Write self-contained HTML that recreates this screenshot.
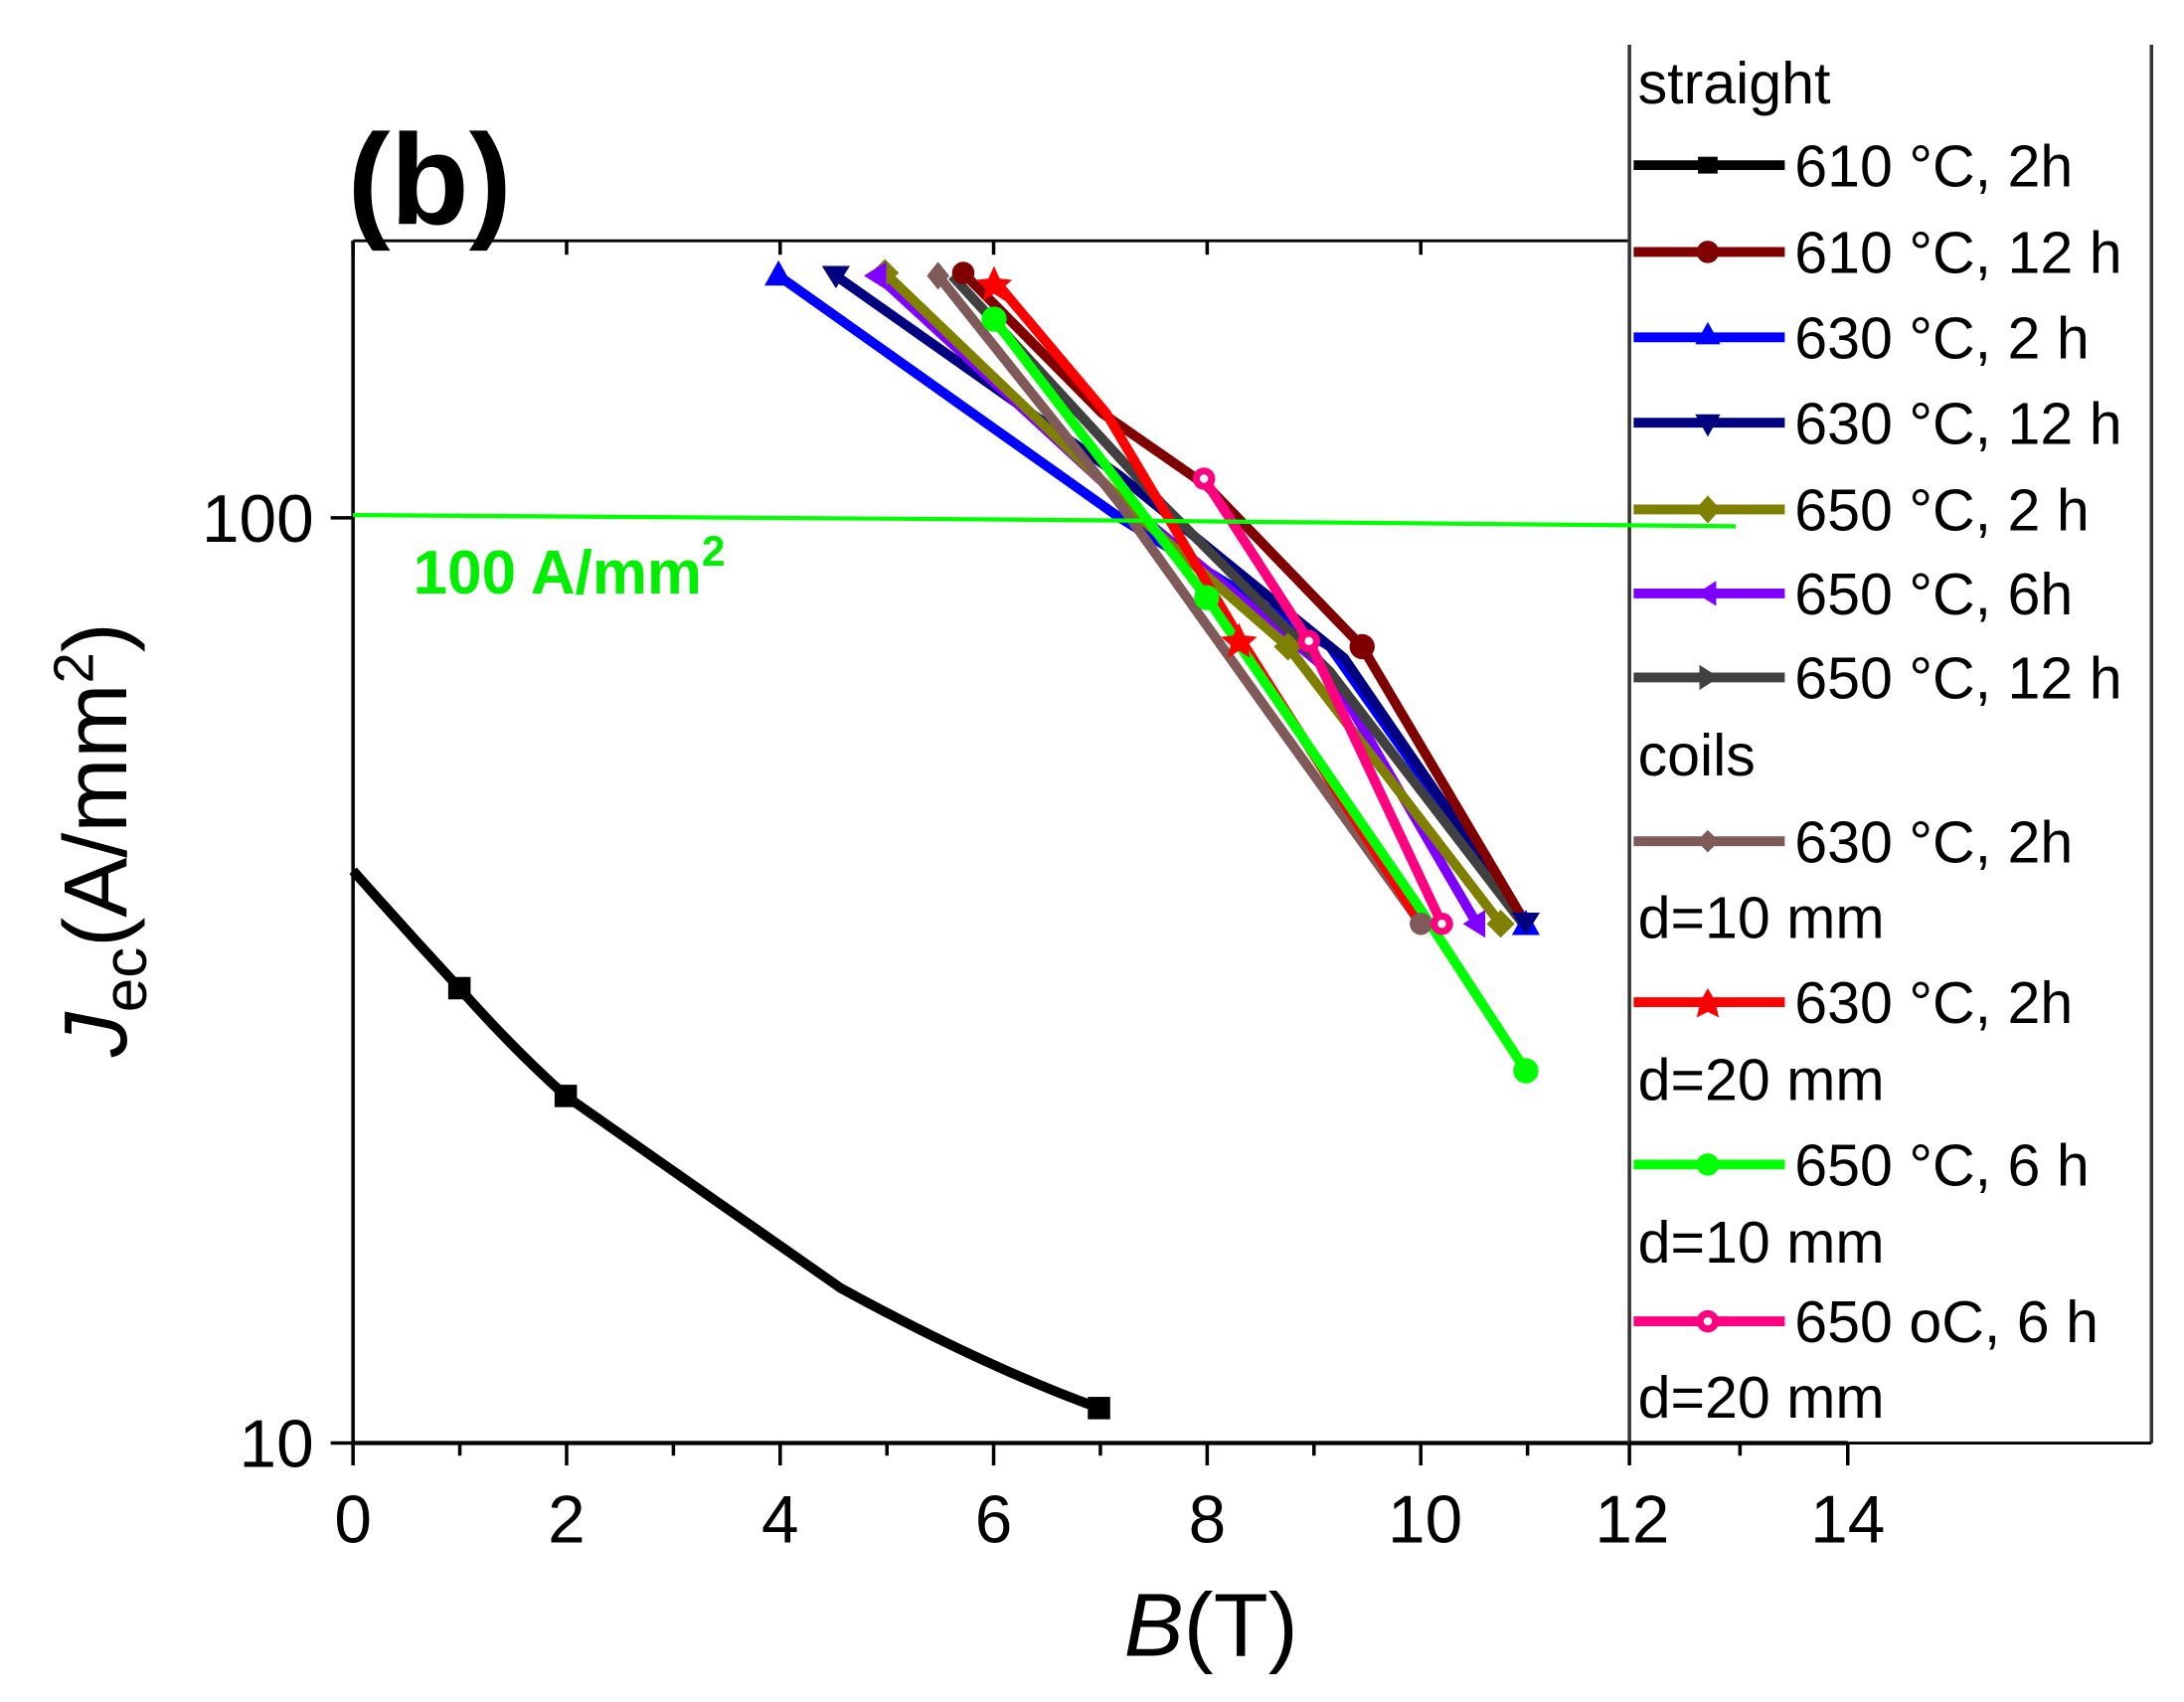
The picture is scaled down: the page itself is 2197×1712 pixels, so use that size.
<!DOCTYPE html>
<html><head><style>html,body{margin:0;padding:0;background:#fff}svg{display:block}</style></head>
<body>
<svg width="2197" height="1712" viewBox="0 0 1560 1216" xmlns="http://www.w3.org/2000/svg" font-family="Liberation Sans, Arial, sans-serif">
<rect width="1560" height="1216" fill="#fff"/>
<!-- frame -->
<line x1="252" y1="172" x2="1164" y2="172" stroke="#000" stroke-width="2"/>
<line x1="252" y1="172" x2="252" y2="1031" stroke="#000" stroke-width="2.5"/>
<line x1="252" y1="1031" x2="1320" y2="1031" stroke="#000" stroke-width="3"/>
<g stroke="#000" stroke-width="2.5">
<line x1="252" y1="1031" x2="252" y2="1047"/><line x1="404.6" y1="1031" x2="404.6" y2="1047"/><line x1="557.2" y1="1031" x2="557.2" y2="1047"/><line x1="709.7" y1="1031" x2="709.7" y2="1047"/><line x1="862.3" y1="1031" x2="862.3" y2="1047"/><line x1="1014.9" y1="1031" x2="1014.9" y2="1047"/><line x1="1164" y1="1031" x2="1164" y2="1047"/><line x1="1320" y1="1031" x2="1320" y2="1047"/>
<line x1="328.3" y1="1031" x2="328.3" y2="1040"/><line x1="480.9" y1="1031" x2="480.9" y2="1040"/><line x1="633.5" y1="1031" x2="633.5" y2="1040"/><line x1="786" y1="1031" x2="786" y2="1040"/><line x1="938.6" y1="1031" x2="938.6" y2="1040"/><line x1="1091.2" y1="1031" x2="1091.2" y2="1040"/><line x1="1243" y1="1031" x2="1243" y2="1040"/>
<line x1="252" y1="172" x2="252" y2="182"/><line x1="404.6" y1="172" x2="404.6" y2="182"/><line x1="557.2" y1="172" x2="557.2" y2="182"/><line x1="709.7" y1="172" x2="709.7" y2="182"/><line x1="862.3" y1="172" x2="862.3" y2="182"/><line x1="1014.9" y1="172" x2="1014.9" y2="182"/>
<line x1="236" y1="370" x2="252" y2="370"/><line x1="236" y1="1031" x2="252" y2="1031"/>
</g>
<!-- tick labels -->
<g font-size="48" fill="#000" text-anchor="middle">
<text x="252" y="1102">0</text><text x="404.6" y="1102">2</text><text x="557.2" y="1102">4</text><text x="709.7" y="1102">6</text><text x="862.3" y="1102">8</text><text x="1018" y="1102">10</text><text x="1166" y="1102">12</text><text x="1320" y="1102">14</text>
</g>
<g font-size="48" fill="#000" text-anchor="end"><text x="224" y="387">100</text><text x="224" y="1048">10</text></g>
<text x="865" y="1183" font-size="64" text-anchor="middle"><tspan font-style="italic">B</tspan>(T)</text>
<text transform="translate(90,600) rotate(-90)" font-size="64" text-anchor="middle"><tspan font-style="italic">J</tspan><tspan font-size="44" dy="14">ec</tspan><tspan dy="-14">(A/mm</tspan><tspan font-size="40" dy="-24">2</tspan><tspan dy="24">)</tspan></text>
<text x="248" y="160" font-size="92" font-weight="bold">(b)</text>
<text x="295" y="424" font-size="44" font-weight="bold" fill="#00ee00">100 A/mm<tspan font-size="30" dy="-20">2</tspan></text>
<!-- series -->
<g fill="none" stroke-width="7" stroke-linejoin="round">
<path d="M252,622 Q290,665 328,706 Q365,748 404,783 Q500,850 600,920 Q700,975 785,1006" stroke="#000"/>
<path d="M556,197 L800,370 L950,462 L1090,660" stroke="#0000ff"/>
<path d="M597,197 L800,340 L960,470 L1090,660" stroke="#000080"/>
<path d="M627,197 L810,365 L950,480 L1055,660" stroke="#8000ff"/>
<path d="M632,195 L820,375 L920,462 L1072,660" stroke="#808000"/>
<path d="M680,197 L830,360 L950,480 L1088,660" stroke="#404040"/>
<path d="M670,197 L800,360 L900,500 L1015,660" stroke="#7f5a58"/>
<path d="M688,195 L787,295 L862,347 L973,462 L1090,660" stroke="#800000"/>
<path d="M710,200 L790,295 L885,455 L1015,660" stroke="#ff0000"/>
<path d="M710,228 L862,427 L1015,650 L1090,765" stroke="#00ff00"/>
<path d="M860,342 L935,458 L1030,660" stroke="#ff0080"/>
</g>
<!-- markers -->
<g>
<rect x="320" y="698" width="16" height="16" fill="#000"/><rect x="396" y="775" width="16" height="16" fill="#000"/><rect x="777" y="998" width="16" height="16" fill="#000"/>
<polygon points="556,186 566,204 546,204" fill="#0000ff"/><polygon points="1090,650 1100,668 1080,668" fill="#0000ff"/>
<polygon points="597,206 607,190 587,190" fill="#000080"/><polygon points="1090,668 1100,652 1080,652" fill="#000080"/>
<polygon points="632,185 642,195 632,205 622,195" fill="#808000"/><polygon points="920,452 930,462 920,472 910,462" fill="#808000"/><polygon points="1072,650 1082,660 1072,670 1062,660" fill="#808000"/>
<polygon points="617,197 633,187 633,207" fill="#8000ff"/><polygon points="1045,660 1061,650 1061,670" fill="#8000ff"/>
<circle cx="688" cy="195" r="8" fill="#800000"/><circle cx="973" cy="462" r="9" fill="#800000"/>
<polygon points="670,187 678,197 670,207 662,197" fill="#7f5a58"/><circle cx="1015" cy="660" r="8" fill="#7f5a58"/>
<polygon points="710,190 714,199 723,200 716,206 718,215 710,210 702,215 704,206 697,200 706,199" fill="#ff0000"/>
<polygon points="885,445 889,454 898,455 891,461 893,470 885,465 877,470 879,461 872,455 881,454" fill="#ff0000"/>
<circle cx="710" cy="228" r="9" fill="#00ff00"/><circle cx="862" cy="427" r="9" fill="#00ff00"/><circle cx="1090" cy="765" r="9" fill="#00ff00"/>
<circle cx="860" cy="342" r="8" fill="#ff0080"/><circle cx="860" cy="342" r="3" fill="#fff"/><circle cx="935" cy="458" r="8" fill="#ff0080"/><circle cx="935" cy="458" r="3" fill="#fff"/><circle cx="1030" cy="660" r="8" fill="#ff0080"/><circle cx="1030" cy="660" r="3" fill="#fff"/>
</g>
<!-- legend -->
<rect x="1164" y="32" width="373" height="999" fill="#fff" stroke="none"/>
<line x1="1164" y1="32" x2="1164" y2="1031" stroke="#333" stroke-width="2.5"/>
<line x1="1537" y1="32" x2="1537" y2="1031" stroke="#333" stroke-width="2.5"/>
<line x1="1164" y1="1031" x2="1537" y2="1031" stroke="#000" stroke-width="2"/>
<line x1="1164" y1="1031" x2="1320" y2="1031" stroke="#000" stroke-width="3"/>
<!-- 100 line on top -->
<polyline points="252,368 700,371 1240,376" fill="none" stroke="#00ff00" stroke-width="3"/>
<g stroke-width="7">
<line x1="1167" y1="118" x2="1275" y2="118" stroke="#000"/>
<line x1="1167" y1="180" x2="1275" y2="180" stroke="#800000"/>
<line x1="1167" y1="241" x2="1275" y2="241" stroke="#0000ff"/>
<line x1="1167" y1="302" x2="1275" y2="302" stroke="#000080"/>
<line x1="1167" y1="364" x2="1275" y2="364" stroke="#808000"/>
<line x1="1167" y1="424" x2="1275" y2="424" stroke="#8000ff"/>
<line x1="1167" y1="484" x2="1275" y2="484" stroke="#404040"/>
<line x1="1167" y1="601" x2="1275" y2="601" stroke="#7f5a58"/>
<line x1="1167" y1="716" x2="1275" y2="716" stroke="#ff0000"/>
<line x1="1167" y1="832" x2="1275" y2="832" stroke="#00ff00"/>
<line x1="1167" y1="944" x2="1275" y2="944" stroke="#ff0080"/>
</g>
<g>
<rect x="1213" y="112" width="14" height="12" fill="#000"/><circle cx="1220" cy="180" r="8" fill="#800000"/>
<polygon points="1220,230 1229,246 1211,246" fill="#0000ff"/><polygon points="1220,312 1229,296 1211,296" fill="#000080"/>
<polygon points="1220,354 1229,364 1220,374 1211,364" fill="#808000"/><polygon points="1212,424 1226,415 1226,433" fill="#8000ff"/>
<polygon points="1228,484 1214,475 1214,493" fill="#404040"/><polygon points="1220,593 1228,601 1220,609 1212,601" fill="#7f5a58"/>
<polygon points="1220,706 1224,713 1232,714 1226,719 1228,727 1220,723 1212,727 1214,719 1208,714 1216,713" fill="#ff0000"/>
<circle cx="1220" cy="832" r="8" fill="#00ff00"/><circle cx="1220" cy="944" r="8" fill="#ff0080"/><circle cx="1220" cy="944" r="3" fill="#fff"/>
</g>
<g font-size="42" fill="#000">
<text x="1170" y="74">straight</text>
<text x="1282" y="133">610 °C, 2h</text>
<text x="1282" y="195">610 °C, 12 h</text>
<text x="1282" y="256">630 °C, 2 h</text>
<text x="1282" y="317">630 °C, 12 h</text>
<text x="1282" y="379">650 °C, 2 h</text>
<text x="1282" y="439">650 °C, 6h</text>
<text x="1282" y="499">650 °C, 12 h</text>
<text x="1170" y="554">coils</text>
<text x="1282" y="616">630 °C, 2h</text>
<text x="1170" y="670">d=10 mm</text>
<text x="1282" y="731">630 °C, 2h</text>
<text x="1170" y="786">d=20 mm</text>
<text x="1282" y="847">650 °C, 6 h</text>
<text x="1170" y="902">d=10 mm</text>
<text x="1282" y="959">650 oC, 6 h</text>
<text x="1170" y="1013">d=20 mm</text>
</g>
</svg>
</body></html>
